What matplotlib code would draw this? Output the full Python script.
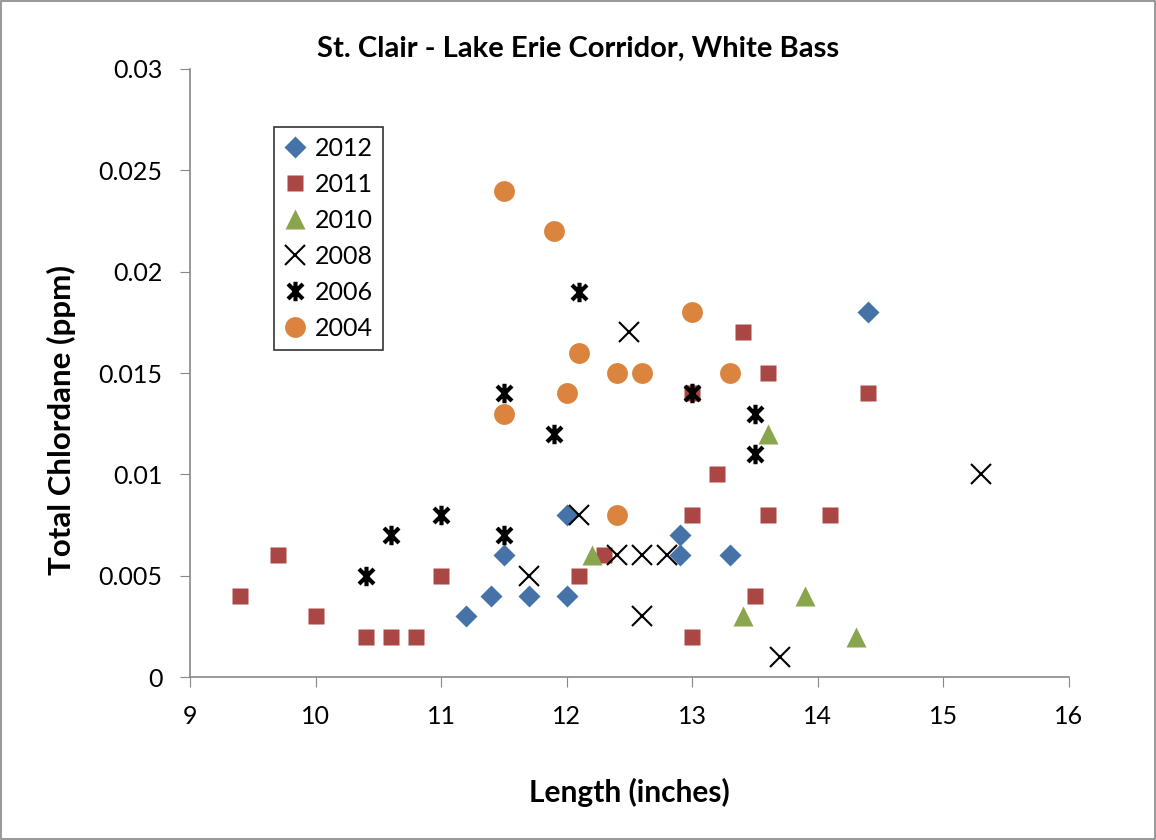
import matplotlib
matplotlib.use("Agg")
import matplotlib.pyplot as plt
from matplotlib.path import Path
from matplotlib.patches import Rectangle

plt.rcParams['font.family'] = ['Lato', 'DejaVu Sans']

# data: (length in inches, total chlordane ppm)
x2012 = [11.2, 11.4, 11.5, 11.7, 12.0, 12.0, 12.9, 12.9, 13.3, 14.4]
y2012 = [0.003, 0.004, 0.006, 0.004, 0.008, 0.004, 0.007, 0.006, 0.006, 0.018]

x2011 = [9.4, 9.7, 10.0, 10.4, 10.6, 10.8, 11.0, 12.1, 12.3, 13.0, 13.0, 13.0,
         13.2, 13.4, 13.6, 13.6, 13.5, 14.1, 14.4]
y2011 = [0.004, 0.006, 0.003, 0.002, 0.002, 0.002, 0.005, 0.005, 0.006, 0.008,
         0.002, 0.014, 0.010, 0.017, 0.015, 0.008, 0.004, 0.008, 0.014]

x2010 = [12.2, 13.4, 13.6, 13.9, 14.3]
y2010 = [0.006, 0.003, 0.012, 0.004, 0.002]

x2008 = [11.7, 12.1, 12.4, 12.6, 12.8, 12.5, 12.6, 13.7, 15.3]
y2008 = [0.005, 0.008, 0.006, 0.006, 0.006, 0.017, 0.003, 0.001, 0.010]

x2006 = [10.4, 10.6, 11.0, 11.5, 11.5, 11.9, 12.1, 13.0, 13.5, 13.5]
y2006 = [0.005, 0.007, 0.008, 0.007, 0.014, 0.012, 0.019, 0.014, 0.013, 0.011]

x2004 = [11.5, 11.9, 12.1, 12.0, 12.4, 12.6, 11.5, 12.4, 13.0, 13.3]
y2004 = [0.024, 0.022, 0.016, 0.014, 0.015, 0.015, 0.013, 0.008, 0.018, 0.015]

# excel style asterisk: an x with a vertical bar
star = Path([(-1, -1), (1, 1), (-1, 1), (1, -1), (0, -1.3), (0, 1.3)],
            [Path.MOVETO, Path.LINETO, Path.MOVETO, Path.LINETO, Path.MOVETO, Path.LINETO])

fig = plt.figure(figsize=(11.56, 8.4), dpi=100)
ax = fig.add_axes([0.1644, 0.194, 0.7603, 0.7239])

ax.plot(x2012, y2012, 'D', color='#4572a7', ms=11, mec='none', label='2012')
ax.plot(x2011, y2011, 's', color='#aa4643', ms=11, mec='none', label='2011')
ax.plot(x2010, y2010, '^', color='#89a54e', ms=15, mec='none', label='2010')
ax.plot(x2008, y2008, 'x', color='black', ms=14, mew=1.5, label='2008')
ax.plot(x2006, y2006, marker=star, ls='none', color='black', ms=14, mew=3, label='2006')
ax.plot(x2004, y2004, 'o', color='#db843d', ms=15, mec='none', label='2004')

ax.set_xlim(9, 16)
ax.set_ylim(0, 0.03)
ax.set_xticks(range(9, 17))
ax.set_yticks([0, 0.005, 0.01, 0.015, 0.02, 0.025, 0.03])
ax.set_yticklabels(['0', '0.005', '0.01', '0.015', '0.02', '0.025', '0.03'])
ax.tick_params(labelsize=18, length=7, color='#888888')
ax.tick_params(axis='x', pad=13)
ax.tick_params(axis='y', pad=13)
for s in ['top', 'right']:
    ax.spines[s].set_visible(False)
for s in ['left', 'bottom']:
    ax.spines[s].set_color('#888888')
    ax.spines[s].set_linewidth(1.2)

# title is centred on the whole chart, not on the plot area
ax.set_title('St. Clair - Lake Erie Corridor, White Bass', fontsize=21, fontweight='bold',
             pad=9, x=0.4414)
ax.set_xlabel('Length (inches)', fontsize=21.5, fontweight='bold', labelpad=36)
ax.set_ylabel('Total Chlordane (ppm)', fontsize=22.5, fontweight='bold', labelpad=16)
ax.yaxis.label.set_y(0.423)

leg = ax.legend(loc='upper left', bbox_to_anchor=(0.0956, 0.905), fontsize=18,
                frameon=True, fancybox=False, borderpad=0.4, labelspacing=0.52,
                handlelength=0.9, handletextpad=0.35, borderaxespad=0)
leg.get_frame().set_edgecolor('black')
leg.get_frame().set_linewidth(1.2)

fig.patches.append(Rectangle((0.001, 0.001), 0.998, 0.998, transform=fig.transFigure,
                             fill=False, edgecolor='#888888', lw=1.2))

fig.savefig('out.png', dpi=100)
